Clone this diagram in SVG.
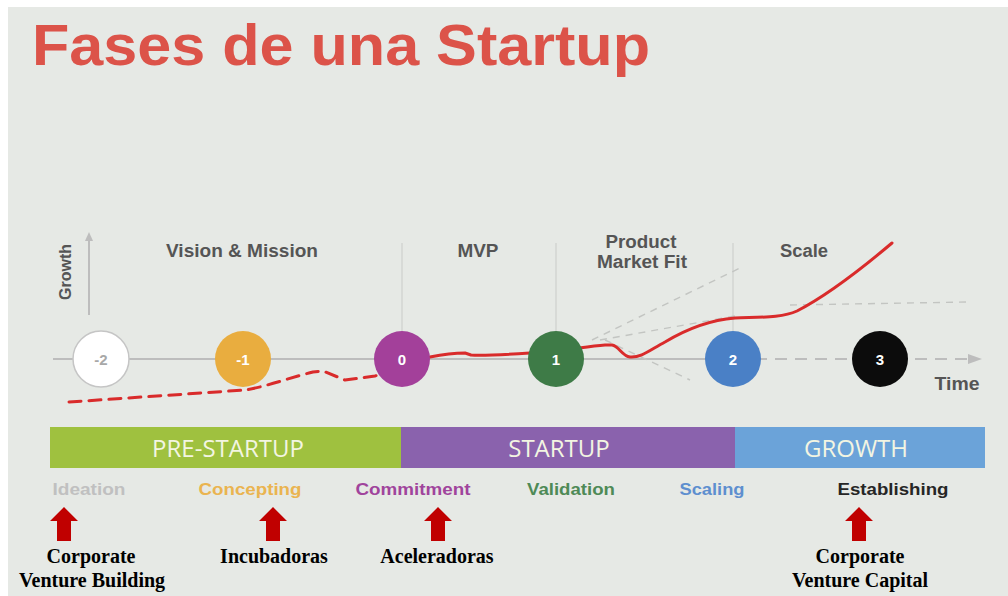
<svg xmlns="http://www.w3.org/2000/svg" width="1008" height="596" viewBox="0 0 1008 596">
  <style>
    .title { font-family: "Liberation Sans", Arial, sans-serif; font-weight: bold; font-size: 57px; fill: #dc5349; }
    .lbl { font-family: "Liberation Sans", Arial, sans-serif; font-weight: bold; font-size: 18px; fill: #555555; text-anchor: middle; }
    .num { font-family: "Liberation Sans", Arial, sans-serif; font-weight: bold; font-size: 15px; fill: #ffffff; text-anchor: middle; }
    .bar { font-family: "Open Sans", "Liberation Sans", sans-serif; font-size: 24px; fill: #f3f5e2; text-anchor: middle; }
    .stage { font-family: "Liberation Sans", Arial, sans-serif; font-weight: bold; font-size: 17px; text-anchor: middle; }
    .who { font-family: "Liberation Serif", "Times New Roman", serif; font-weight: bold; font-size: 20px; fill: #000000; text-anchor: middle; }
    .axis { stroke: #bdbdbd; stroke-width: 2; fill: none; }
    .divider { stroke: #c9cbc8; stroke-width: 1; fill: none; }
    .ghost { stroke: #c3c5c2; stroke-width: 1.4; stroke-dasharray: 7 6; fill: none; }
    .curve { stroke: #d92b2b; stroke-width: 3; fill: none; stroke-linejoin: round; stroke-linecap: round; }
    .arrow { fill: #c00000; }
  </style>

  <!-- page background -->
  <rect x="0" y="0" width="1008" height="596" fill="#ffffff"/>
  <rect x="8" y="7" width="1000" height="589" fill="#e6e9e5"/>

  <!-- heading -->
  <text id="title" class="title" x="32" y="65" textLength="618" lengthAdjust="spacingAndGlyphs">Fases de una Startup</text>

  <!-- axes, dividers and growth curves -->
  <g id="connectors">
    <line class="axis" x1="89" y1="315" x2="89" y2="236"/>
    <path d="M85,241 L89,232 L93,241 z" fill="#bdbdbd"/>
    <line class="axis" x1="53" y1="359" x2="735" y2="359"/>
    <line x1="735" y1="359" x2="972" y2="359" stroke="#bdbdbd" stroke-width="2" stroke-dasharray="12 8"/>
    <path d="M968,354 L982,359 L968,364 z" fill="#bdbdbd"/>

    <line class="divider" x1="402" y1="243" x2="402" y2="332"/>
    <line class="divider" x1="556" y1="243" x2="556" y2="332"/>
    <line class="divider" x1="733" y1="243" x2="733" y2="332"/>

    <path class="ghost" d="M592,340 L740,268"/>
    <path class="ghost" d="M600,340 L735,316"/>
    <path class="ghost" d="M605,340 L690,380"/>
    <path class="ghost" d="M790,305 L968,302"/>

    <path class="curve" stroke-dasharray="12 8" d="M69,402 L245,390 C265,387 292,377 313,372 L323,371 L345,380 L375,376 L392,371"/>
    <path class="curve" d="M430,357 C445,354 455,353 465,353 L471,355 C485,356 530,353 556,351 C575,349 590,346 605,345 L612,345 C619,346 622,356 630,357 C641,358 650,350 665,342 C685,330 710,320 735,318 C760,317 782,318 797,311 C830,294 866,265 892,243"/>
  </g>

  <!-- axis captions -->
  <text class="lbl" x="0" y="0" transform="translate(71,272) rotate(-90)" style="font-size:16px">Growth</text>
  <text class="lbl" x="242" y="257" textLength="152" lengthAdjust="spacingAndGlyphs">Vision &amp; Mission</text>
  <text class="lbl" x="478" y="257" textLength="41" lengthAdjust="spacingAndGlyphs">MVP</text>
  <text class="lbl" x="641" y="248" textLength="71" lengthAdjust="spacingAndGlyphs">Product</text>
  <text class="lbl" x="642" y="268" textLength="90" lengthAdjust="spacingAndGlyphs">Market Fit</text>
  <text class="lbl" x="804" y="257" textLength="48" lengthAdjust="spacingAndGlyphs">Scale</text>
  <text class="lbl" x="957" y="390" textLength="45" lengthAdjust="spacingAndGlyphs">Time</text>

  <!-- milestones on the time axis -->
  <g id="m-2">
    <circle cx="101" cy="359" r="28" fill="#ffffff" stroke="#c5c5c5" stroke-width="1.5"/>
    <text class="num" x="101" y="365" style="fill:#a8a8a8">-2</text>
  </g>
  <g id="m-1">
    <circle cx="243" cy="359" r="28" fill="#e9ad3f"/>
    <text class="num" x="243" y="365">-1</text>
  </g>
  <g id="m0">
    <circle cx="402" cy="359" r="28" fill="#a3409a"/>
    <text class="num" x="402" y="365">0</text>
  </g>
  <g id="m1">
    <circle cx="556" cy="359" r="28" fill="#3e7b47"/>
    <text class="num" x="556" y="365">1</text>
  </g>
  <g id="m2">
    <circle cx="733" cy="359" r="28" fill="#4a80c6"/>
    <text class="num" x="733" y="365">2</text>
  </g>
  <g id="m3">
    <circle cx="880" cy="359" r="28" fill="#0c0c0c"/>
    <text class="num" x="880" y="365">3</text>
  </g>

  <!-- phase bars -->
  <g id="pre-startup">
    <rect x="50" y="427" width="351" height="41" fill="#9fc13f"/>
    <text class="bar" x="228" y="457">PRE-STARTUP</text>
  </g>
  <g id="startup">
    <rect x="401" y="427" width="334" height="41" fill="#8a62ad"/>
    <text class="bar" x="559" y="457">STARTUP</text>
  </g>
  <g id="growth">
    <rect x="735" y="427" width="250" height="41" fill="#6ba3d9"/>
    <text class="bar" x="856" y="457">GROWTH</text>
  </g>

  <!-- stage names -->
  <g id="stages">
    <text class="stage" x="89" y="495" fill="#c0c0c0" textLength="73" lengthAdjust="spacingAndGlyphs">Ideation</text>
    <text class="stage" x="250" y="495" fill="#eab450" textLength="103" lengthAdjust="spacingAndGlyphs">Concepting</text>
    <text class="stage" x="413" y="495" fill="#a0449c" textLength="115" lengthAdjust="spacingAndGlyphs">Commitment</text>
    <text class="stage" x="571" y="495" fill="#4e8a56" textLength="88" lengthAdjust="spacingAndGlyphs">Validation</text>
    <text class="stage" x="712" y="495" fill="#5e8fcf" textLength="65" lengthAdjust="spacingAndGlyphs">Scaling</text>
    <text class="stage" x="893" y="495" fill="#262626" textLength="111" lengthAdjust="spacingAndGlyphs">Establishing</text>
  </g>

  <!-- support vehicles pointing at stages -->
  <g id="cvb">
    <path class="arrow" d="M64,507 L78,521 L71,521 L71,541 L57,541 L57,521 L50,521 z"/>
    <text class="who" x="91" y="563">Corporate</text>
    <text class="who" x="92" y="587">Venture Building</text>
  </g>
  <g id="incubadoras">
    <path class="arrow" d="M273,507 L287,521 L280,521 L280,541 L266,541 L266,521 L259,521 z"/>
    <text class="who" x="274" y="563">Incubadoras</text>
  </g>
  <g id="aceleradoras">
    <path class="arrow" d="M438,507 L452,521 L445,521 L445,541 L431,541 L431,521 L424,521 z"/>
    <text class="who" x="437" y="563">Aceleradoras</text>
  </g>
  <g id="cvc">
    <path class="arrow" d="M859,507 L873,521 L866,521 L866,541 L852,541 L852,521 L845,521 z"/>
    <text class="who" x="860" y="563">Corporate</text>
    <text class="who" x="860" y="587">Venture Capital</text>
  </g>
</svg>
